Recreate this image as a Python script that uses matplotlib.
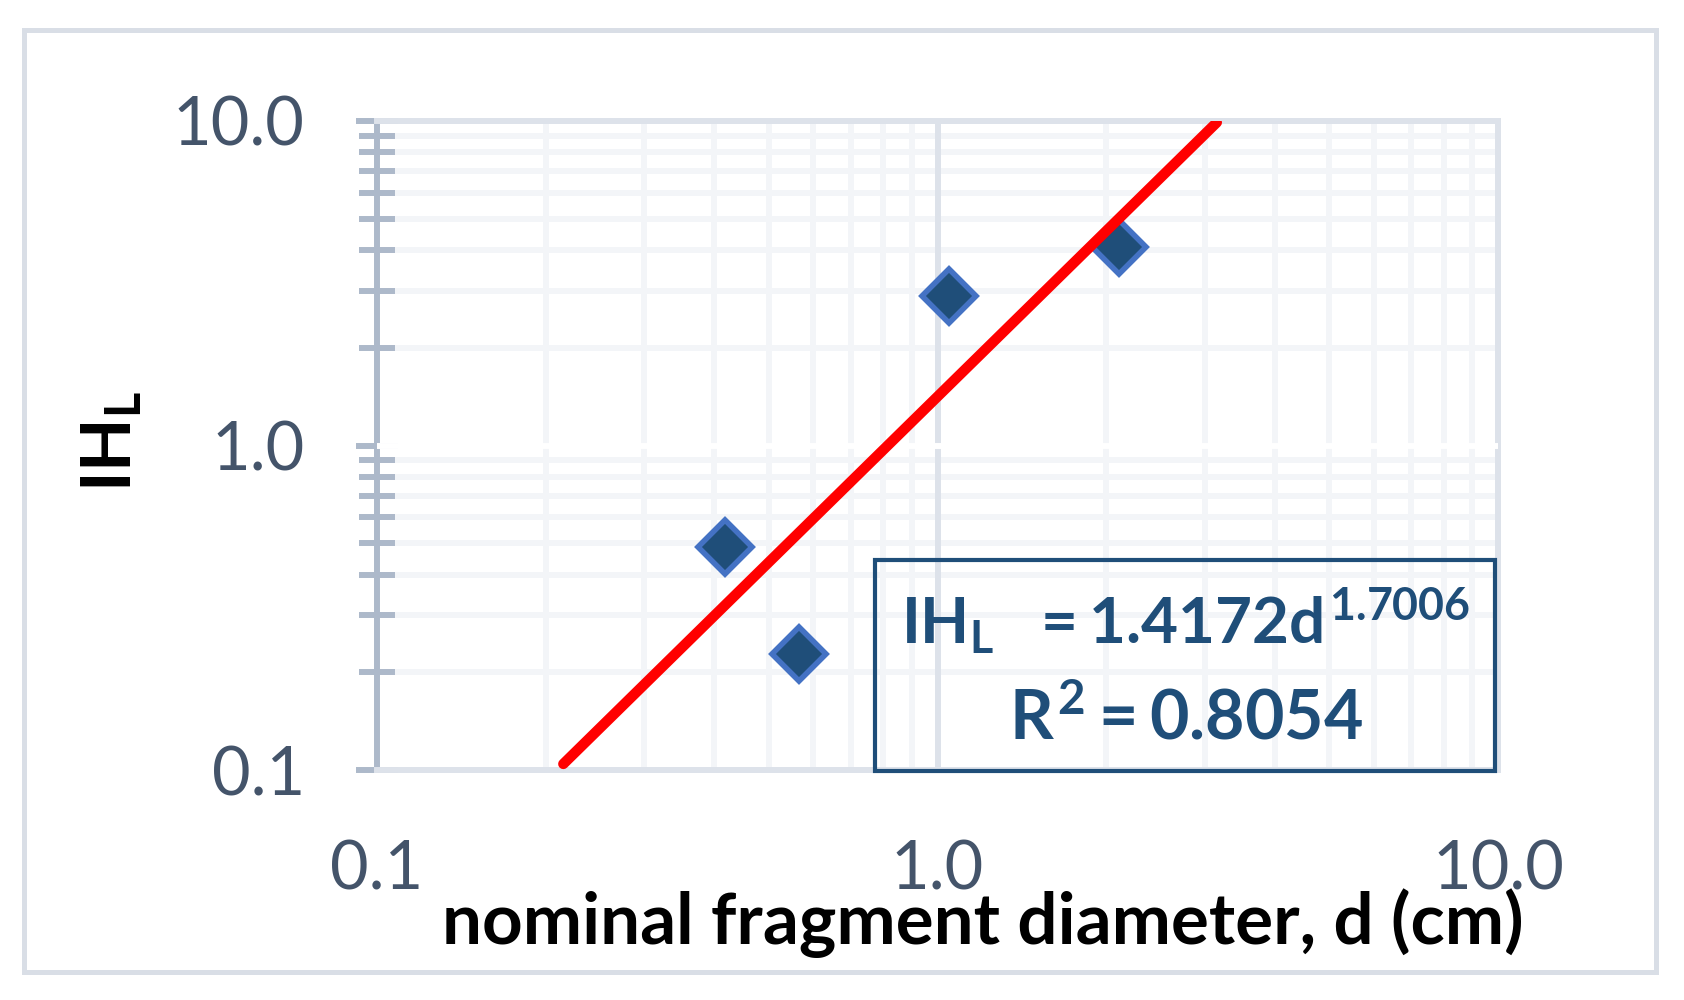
import matplotlib
matplotlib.use("Agg")
import matplotlib.pyplot as plt
from matplotlib.patches import Rectangle
from matplotlib.ticker import LogLocator, NullFormatter

# ── Data ──────────────────────────────────────────────────────
diameter_cm = [0.417, 0.567, 1.050, 2.107]
ih_l = [0.488, 0.228, 2.894, 4.10]

# power-law trend line end points (straight on log-log axes)
trend_x = [0.215, 3.15]
trend_y = [0.1044, 9.90]

tick_values = [0.1, 1.0, 10.0]
tick_labels = ["0.1", "1.0", "10.0"]

eq_text = r"$IH_{L}\ \ = 1.4172d^{1.7006}$"
r2_text = r"$R^{2} = 0.8054$"

# ── Style ─────────────────────────────────────────────────────
plt.rcParams["font.family"] = ["Lato", "DejaVu Sans"]
plt.rcParams["mathtext.fontset"] = "custom"
plt.rcParams["mathtext.rm"] = "Lato:bold"
plt.rcParams["mathtext.it"] = "Lato:bold"
plt.rcParams["mathtext.bf"] = "Lato:bold"

W, H = 1684, 1000
fig = plt.figure(figsize=(W / 100, H / 100), dpi=100)

# plot area in pixels: x 377..1498, y 121..770
left, right, top, bottom = 377, 1498, 121, 770
ax = fig.add_axes([left / W, 1 - bottom / H, (right - left) / W, (bottom - top) / H])

ax.set_xscale("log")
ax.set_yscale("log")
ax.set_xlim(0.1, 10)
ax.set_ylim(0.1, 10)

# minor grid (very light) and the x=1 major line
minor_subs = [2, 3, 4, 5, 6, 7, 8, 9]
ax.xaxis.set_minor_locator(LogLocator(base=10, subs=minor_subs))
ax.yaxis.set_minor_locator(LogLocator(base=10, subs=minor_subs))
ax.xaxis.set_minor_formatter(NullFormatter())
ax.yaxis.set_minor_formatter(NullFormatter())
ax.set_axisbelow(True)
ax.grid(which="minor", color="#f3f5f8", linewidth=4.3)
ax.axvline(1.0, color="#dde2ea", linewidth=4.3, zorder=1)

# spines
for side in ["top", "right", "bottom"]:
    ax.spines[side].set_color("#dde2ea")
    ax.spines[side].set_linewidth(4.3)
ax.spines["left"].set_color("#adb9ca")
ax.spines["left"].set_linewidth(4.3)

# white band at y = 1.0 (as in the original)
ax.axhline(1.0, color="white", linewidth=4.3, zorder=2.6)

# ticks
ax.set_xticks(tick_values)
ax.set_xticklabels(tick_labels)
ax.set_yticks(tick_values)
ax.set_yticklabels(tick_labels)
ax.tick_params(axis="x", which="both", length=0, pad=50,
               labelsize=48, labelcolor="#44546a")
ax.tick_params(axis="y", which="major", direction="inout", length=30,
               width=4.3, color="#adb9ca", pad=37,
               labelsize=48, labelcolor="#44546a")
ax.tick_params(axis="y", which="minor", direction="inout", length=26,
               width=4.3, color="#adb9ca")

# data points and trend line
ax.plot(diameter_cm, ih_l, linestyle="none", marker="D", markersize=28,
        markerfacecolor="#1f4e79", markeredgecolor="#4472c4",
        markeredgewidth=4, zorder=4)
ax.plot(trend_x, trend_y, color="#ff0000", linewidth=7.5,
        solid_capstyle="round", zorder=5)

# equation box
bx0, by0, bx1, by1 = 875, 560, 1495, 771
fig.patches.append(Rectangle((bx0 / W, 1 - by1 / H), (bx1 - bx0) / W, (by1 - by0) / H,
                             transform=fig.transFigure, fill=False,
                             edgecolor="#1f4e79", linewidth=3, zorder=6))
fig.text(1186 / W, 1 - 644 / H, eq_text, ha="center", va="baseline",
         fontsize=46, color="#1f4e79", zorder=7)
fig.text(1186 / W, 1 - 739 / H, r2_text, ha="center", va="baseline",
         fontsize=49, color="#1f4e79", zorder=7)

# axis titles
fig.text(983 / W, 1 - 944 / H, "nominal fragment diameter, d (cm)",
         ha="center", va="baseline", fontsize=51, fontweight="bold", color="black")
fig.text(112 / W, 1 - 442 / H, r"$IH_{L}$", rotation=90,
         ha="center", va="center", fontsize=50, color="black")

# outer chart border
fig.patches.append(Rectangle((24 / W, 1 - 972 / H), (1656 - 24) / W, (972 - 30) / H,
                             transform=fig.transFigure, fill=False,
                             edgecolor="#d9dee6", linewidth=3.6))

fig.savefig("out.png", dpi=100, facecolor="white")
